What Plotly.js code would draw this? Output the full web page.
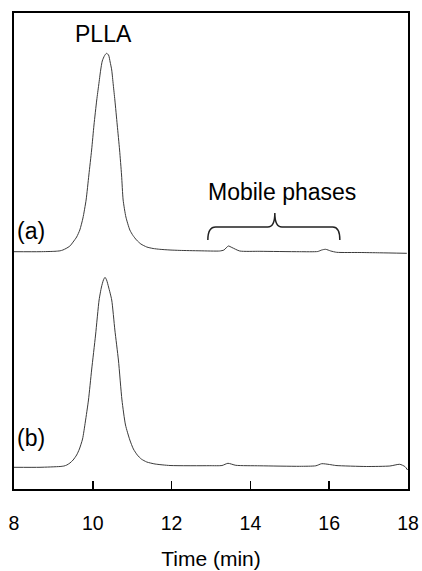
<!DOCTYPE html>
<html>
<head>
<meta charset="utf-8">
<script src="https://cdn.plot.ly/plotly-3.0.1.min.js"></script>
<style>html,body{margin:0;padding:0;background:#fff;}#chart{width:422px;height:571px;}</style>
</head>
<body>
<div id="chart"></div>
<script>
// ---- data ----
// trace (a)
const timeA = [8.00, 8.66, 9.04, 9.17, 9.24, 9.32, 9.42, 9.50, 9.59, 9.67, 9.75, 9.83, 9.90, 9.97, 10.03, 10.10, 10.15, 10.20, 10.24, 10.30, 10.35, 10.40, 10.44, 10.48, 10.52, 10.56, 10.62, 10.68, 10.73, 10.77, 10.84, 10.94, 11.02, 11.11, 11.22, 11.37, 11.53, 11.70, 11.96, 12.21, 12.72, 13.22, 13.33, 13.44, 13.53, 13.73, 14.24, 15.25, 15.71, 15.81, 15.91, 16.04, 16.19, 16.78, 17.28, 17.97];
const signalA = [0.3, 0.3, 0.7, 1.2, 2, 3.5, 6, 10, 15, 22, 34, 52, 77, 102, 127, 152, 167, 182, 191, 196.5, 198.7, 197, 190, 182, 167, 152, 127, 102, 77, 52, 35, 22, 16.5, 12, 8, 5, 3.5, 2.7, 2, 1.6, 1.2, 1, 2, 6, 4.5, 1, 0.7, 0.3, 0.5, 2, 2.7, 1, -0.3, -0.5, -0.8, -1.3];
// trace (b)
const timeB = [8.00, 8.66, 9.17, 9.27, 9.34, 9.42, 9.50, 9.59, 9.66, 9.74, 9.81, 9.89, 9.97, 10.07, 10.16, 10.22, 10.27, 10.31, 10.35, 10.40, 10.48, 10.56, 10.65, 10.74, 10.83, 10.94, 11.03, 11.13, 11.23, 11.37, 11.58, 11.96, 12.97, 13.28, 13.43, 13.63, 14.24, 15.25, 15.66, 15.81, 16.01, 16.17, 16.95, 17.54, 17.79, 17.92, 17.99];
const signalB = [-0.3, -0.3, 0.5, 1, 2, 4, 7, 12, 18, 28, 45, 67, 97, 132, 167, 180, 187, 189.7, 187, 180, 167, 137, 107, 67, 42, 27, 18, 12, 8, 5, 3, 1.5, 1.3, 1.5, 3.7, 1.7, 1.2, 0.7, 1.2, 3.3, 2.5, 1.5, 0.5, 1, 2.7, 0.5, -3];
const offsetA = 237;
const offsetB = 22;
const seriesLabels = ["(a)", "(b)"];
const tickVals = [8, 10, 12, 14, 16, 18];
const tickText = ["8", "10", "12", "14", "16", "18"];

const FONT = "Liberation Sans, Arial, Helvetica, sans-serif";
const lineStyle = {color: "#3a3a3a", width: 1, shape: "spline", smoothing: 0.6};

const traces = [
  {x: timeA, y: signalA.map(v => v + offsetA), mode: "lines", line: lineStyle, name: seriesLabels[0], hoverinfo: "x+y"},
  {x: timeB, y: signalB.map(v => v + offsetB), mode: "lines", line: lineStyle, name: seriesLabels[1], hoverinfo: "x+y"}
];

const layout = {
  width: 422, height: 571,
  margin: {l: 14, r: 14, t: 13, b: 82, pad: 0},
  paper_bgcolor: "#ffffff", plot_bgcolor: "#ffffff",
  showlegend: false,
  font: {family: FONT, color: "#000"},
  xaxis: {
    range: [8, 18], tickvals: tickVals, ticktext: tickText,
    ticks: "inside", ticklen: 8, tickwidth: 1.5, tickcolor: "#000",
    showline: true, mirror: true, linewidth: 2, linecolor: "#000",
    showgrid: false, zeroline: false,
    tickfont: {size: 19.5, family: FONT, color: "#000"},
    ticklabelstandoff: 16,
    title: {text: "Time (min)", font: {size: 21, family: FONT, color: "#000"}, standoff: 18}
  },
  yaxis: {
    range: [0, 476], showline: true, mirror: true, linewidth: 2, linecolor: "#000",
    showgrid: false, zeroline: false, showticklabels: false, ticks: ""
  },
  annotations: [
    {text: "PLLA", x: 10.26, y: 455, xref: "x", yref: "y", showarrow: false, font: {size: 23, family: FONT, color: "#000"}},
    {text: seriesLabels[0], x: 8.43, y: 258, xref: "x", yref: "y", showarrow: false, font: {size: 23, family: FONT, color: "#000"}},
    {text: seriesLabels[1], x: 8.43, y: 51, xref: "x", yref: "y", showarrow: false, font: {size: 23, family: FONT, color: "#000"}},
    {text: "Mobile phases", x: 14.8, y: 297, xref: "x", yref: "y", showarrow: false, font: {size: 23, family: FONT, color: "#000"}}
  ],
  shapes: [
    {type: "path", xref: "x", yref: "y",
     path: "M 12.92,249 Q 12.92,262 13.12,262 L 14.44,262 Q 14.62,262 14.62,276 Q 14.62,262 14.80,262 L 16.09,262 Q 16.27,262 16.27,249",
     line: {color: "#222", width: 1.5}}
  ]
};

Plotly.newPlot("chart", traces, layout, {displayModeBar: false, staticPlot: true});
</script>
</body>
</html>
